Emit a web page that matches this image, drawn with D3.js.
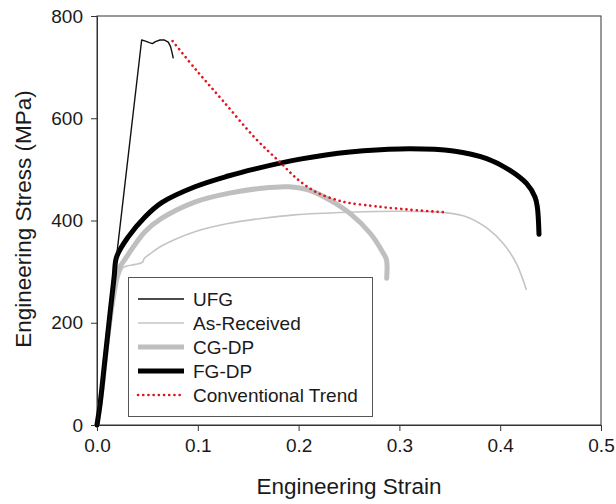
<!DOCTYPE html>
<html><head><meta charset="utf-8">
<script src="https://cdn.jsdelivr.net/npm/d3@7"></script>
<style>body{margin:0;background:#fff}svg{display:block}text{font-family:"Liberation Sans",Arial,sans-serif;fill:#1a1a1a}</style>
</head><body><svg id="c" width="616" height="504"></svg>
<script>
const xTicks = [0, 0.1, 0.2, 0.3, 0.4, 0.5];
const yTicks = [0, 200, 400, 600, 800];
const xTickLabels = ["0.0", "0.1", "0.2", "0.3", "0.4", "0.5"];
const yTickLabels = ["0", "200", "400", "600", "800"];
const xTitle = "Engineering Strain";
const yTitle = "Engineering Stress (MPa)";
const seriesNames = ["UFG", "As-Received", "CG-DP", "FG-DP", "Conventional Trend"];

const ufgStrain = [0, 0.0443, 0.048, 0.052, 0.055, 0.058, 0.0625, 0.067, 0.0707, 0.073, 0.0745, 0.0757];
const ufgStress = [0, 753, 751, 748, 746, 750, 753, 753, 749, 740, 728, 717];

const arStrain = [0, 0.005, 0.012, 0.018, 0.022, 0.026, 0.03, 0.035, 0.04, 0.045, 0.047, 0.055, 0.064, 0.097, 0.130, 0.163, 0.196, 0.25, 0.30, 0.347, 0.367, 0.387, 0.403, 0.416, 0.426];
const arStress = [0, 60, 170, 250, 290, 308, 311, 313, 315, 318, 326, 338, 350, 378, 394, 404, 411, 416, 418, 415, 407, 385, 355, 316, 264];

const cgStrain = [0, 0.005, 0.01, 0.015, 0.019, 0.023, 0.027, 0.0476, 0.064, 0.097, 0.130, 0.163, 0.19, 0.211, 0.231, 0.251, 0.271, 0.284, 0.2872, 0.2874];
const cgStress = [0, 70, 160, 240, 290, 310, 322, 378, 404, 436, 453, 463, 466, 459, 440, 414, 375, 336, 323, 287];

const fgStrain = [0, 0.003, 0.008, 0.013, 0.017, 0.0195, 0.031, 0.0476, 0.0642, 0.0972, 0.130, 0.157, 0.2014, 0.251, 0.3006, 0.3535, 0.3866, 0.4097, 0.4263, 0.4345, 0.4368, 0.4385];
const fgStress = [0, 40, 130, 220, 290, 329, 368, 407, 435, 466, 487, 501, 520, 534, 540, 536, 521, 498, 472, 446, 427, 373];

const ctStrain = [0.075, 0.099, 0.125, 0.157, 0.1815, 0.2, 0.218, 0.238, 0.251, 0.271, 0.284, 0.30, 0.317, 0.347];
const ctStress = [751, 693, 634, 561, 514, 479, 455, 440, 434, 429, 426, 423, 420, 416];

const svg = d3.select("#c");
const x = d3.scaleLinear().domain([0, 0.5]).range([97, 601]);
const y = d3.scaleLinear().domain([0, 800]).range([425, 16]);
const axisColor = "#333";

svg.append("rect").attr("x", x(0)).attr("y", y(800)).attr("width", x(0.5) - x(0)).attr("height", y(0) - y(800))
  .attr("fill", "none").attr("stroke", axisColor).attr("stroke-width", 1);

const xa = svg.append("g").attr("transform", `translate(0,${y(0)})`)
  .call(d3.axisBottom(x).tickValues(xTicks).tickFormat((d, i) => xTickLabels[i]).tickSizeOuter(0).tickSize(6).tickPadding(8));
const ya = svg.append("g").attr("transform", `translate(${x(0)},0)`)
  .call(d3.axisLeft(y).tickValues(yTicks).tickFormat((d, i) => yTickLabels[i]).tickSizeOuter(0).tickSize(6).tickPadding(8));
[xa, ya].forEach(a => {
  a.select(".domain").attr("stroke", axisColor);
  a.selectAll(".tick line").attr("stroke", axisColor);
  a.selectAll("text").style("font-size", "19px").attr("fill", "#1a1a1a");
});

svg.append("text").attr("x", 349).attr("y", 494).attr("text-anchor", "middle").style("font-size", "22.5px").text(xTitle);
svg.append("text").attr("transform", "translate(31,219) rotate(-90)").attr("text-anchor", "middle").style("font-size", "22.5px").text(yTitle);

const zip = (a, b) => a.map((v, i) => [v, b[i]]);
const cat = d3.line().x(d => x(d[0])).y(d => y(d[1])).curve(d3.curveCatmullRom.alpha(0.5));
const lin = d3.line().x(d => x(d[0])).y(d => y(d[1])).curve(d3.curveLinear);
const plot = svg.append("g");

const styles = [
  {stroke: "#111", w: 1.4, dash: null, cap: "butt"},
  {stroke: "#c4c4c4", w: 1.6, dash: null, cap: "butt"},
  {stroke: "#bfbfbf", w: 5, dash: null, cap: "round"},
  {stroke: "#000", w: 5, dash: null, cap: "round"},
  {stroke: "#e0141e", w: 2.6, dash: "0.1,5.1", cap: "round"}
];

function draw(data, st, gen) {
  plot.append("path").attr("d", gen(data)).attr("fill", "none").attr("stroke", st.stroke)
    .attr("stroke-width", st.w).attr("stroke-dasharray", st.dash).attr("stroke-linecap", st.cap).attr("stroke-linejoin", "round");
}
draw(zip(arStrain, arStress), styles[1], cat);
draw(zip(cgStrain, cgStress), styles[2], cat);
draw(zip(fgStrain, fgStress), styles[3], cat);
draw(zip(ufgStrain, ufgStress), styles[0], lin);
draw(zip(ctStrain, ctStress), styles[4], cat);

const lg = svg.append("g");
lg.append("rect").attr("x", 128.5).attr("y", 277.5).attr("width", 244).attr("height", 139)
  .attr("fill", "#fff").attr("stroke", "#555").attr("stroke-width", 1);
seriesNames.forEach((name, i) => {
  const yy = 299 + i * 24;
  const st = styles[i];
  lg.append("line").attr("x1", 138).attr("x2", 184).attr("y1", yy).attr("y2", yy)
    .attr("stroke", st.stroke).attr("stroke-width", st.w).attr("stroke-dasharray", st.dash).attr("stroke-linecap", st.dash ? "round" : "butt");
  lg.append("text").attr("x", 193).attr("y", yy + 6.5).style("font-size", "19px").text(name);
});
</script></body></html>
